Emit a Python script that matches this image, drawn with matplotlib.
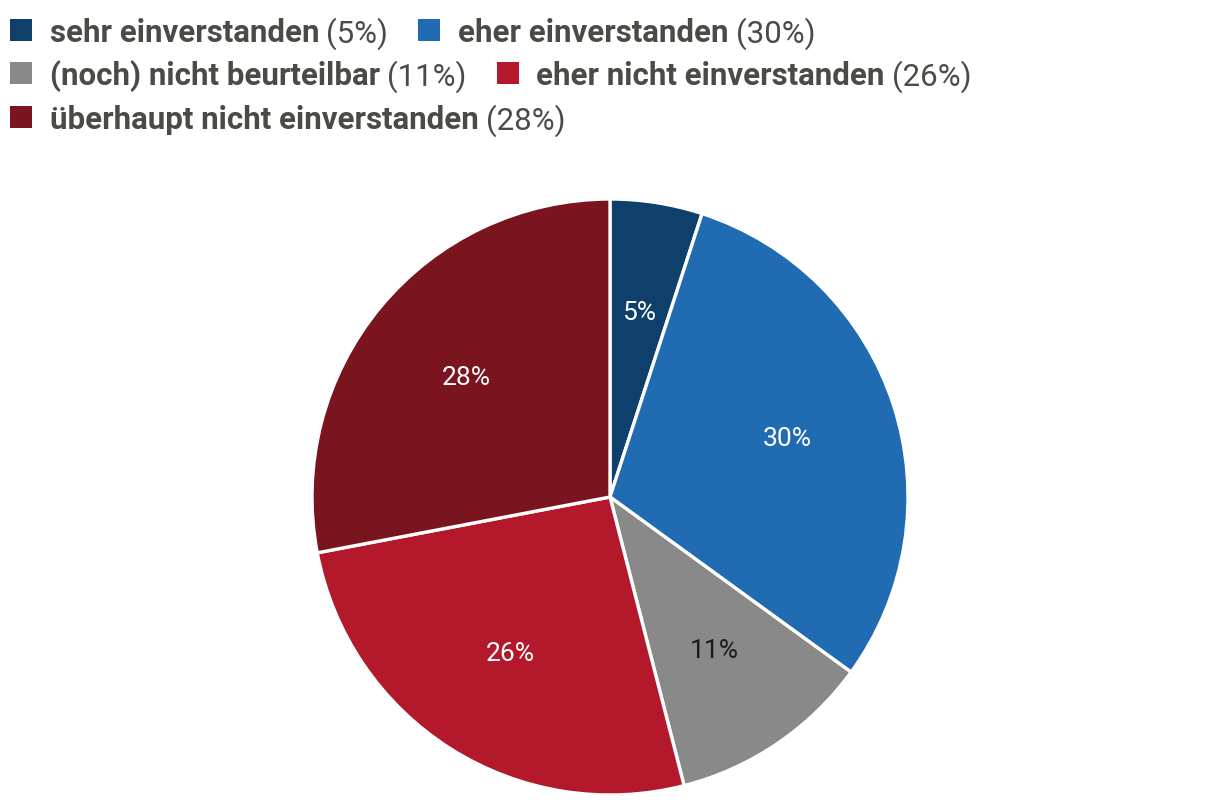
import matplotlib
matplotlib.use("Agg")
import matplotlib.pyplot as plt

# ── Data ──────────────────────────────────────────────────────────────────────
labels = [
    "sehr einverstanden",
    "eher einverstanden",
    "(noch) nicht beurteilbar",
    "eher nicht einverstanden",
    "überhaupt nicht einverstanden",
]
values = [5, 30, 11, 26, 28]
colors = ["#0f3f6b", "#216bb3", "#898989", "#b3192b", "#7a1520"]
label_colors = ["white", "white", "#1a1a1a", "white", "white"]
legend_rows = [[0, 1], [2, 3], [4]]

W, H = 1220, 808
TEXT = "#4b4b46"
FONT = "Roboto"

fig = plt.figure(figsize=(W / 100, H / 100), dpi=100)

# ── Pie ───────────────────────────────────────────────────────────────────────
cx, cy, r = 610, 497, 298
ax = fig.add_axes([(cx - r) / W, (H - cy - r) / H, 2 * r / W, 2 * r / H])
wedges, texts = ax.pie(
    values,
    colors=colors,
    startangle=90,
    counterclock=False,
    labels=[f"{v}%" for v in values],
    labeldistance=0.625,
    wedgeprops=dict(edgecolor="white", linewidth=2.4),
    textprops=dict(fontsize=19, family=FONT),
)
for t, c in zip(texts, label_colors):
    t.set_color(c)
    t.set_ha("center")
    t.set_va("center")
ax.set_xlim(-1, 1)
ax.set_ylim(-1, 1)
ax.set_aspect("equal")
ax.axis("off")

# ── Legend (bold name + regular share) ────────────────────────────────────────
renderer = fig.canvas.get_renderer()
row_y = [30, 73, 117]
fs = 22.5
for yi, row in zip(row_y, legend_rows):
    x = 10
    for i in row:
        y = H - yi
        fig.patches.append(plt.Rectangle((x / W, (y - 11) / H), 22 / W, 22 / H,
                                         transform=fig.transFigure,
                                         facecolor=colors[i], edgecolor="none"))
        x += 40
        t1 = fig.text(x / W, y / H, labels[i], fontsize=fs, fontweight="bold",
                      family=FONT, color=TEXT, va="center_baseline", ha="left")
        bb = t1.get_window_extent(renderer)
        x = bb.x1 + 7
        t2 = fig.text(x / W, y / H, f"({values[i]}%)", fontsize=fs,
                      family=FONT, color=TEXT, va="center_baseline", ha="left")
        bb = t2.get_window_extent(renderer)
        x = bb.x1 + 30

fig.savefig("out.png", dpi=100)
